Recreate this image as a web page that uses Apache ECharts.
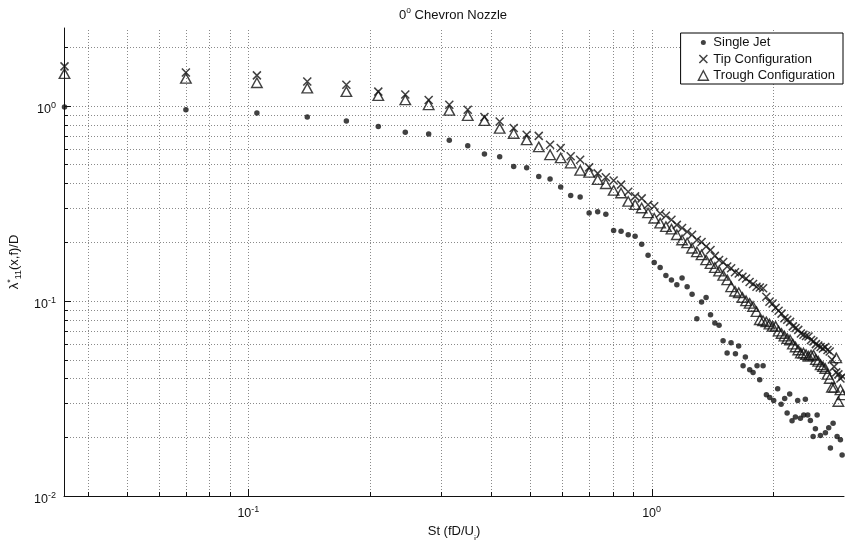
<!DOCTYPE html>
<html>
<head>
<meta charset="utf-8">
<script src="https://cdn.jsdelivr.net/npm/echarts@6/dist/echarts.min.js"></script>
<style>
  html, body { margin: 0; padding: 0; background: #fff; }
  #chart { width: 845px; height: 540px; }
</style>
</head>
<body>
<div id="chart"></div>
<script>
// Strouhal number bins shared by the two chevron configurations
const stBins = [0.035, 0.07, 0.105, 0.14, 0.175, 0.21, 0.245, 0.28, 0.315, 0.35,
  0.385, 0.42, 0.455, 0.49, 0.525, 0.56, 0.595, 0.63, 0.665, 0.7,
  0.735, 0.77, 0.805, 0.84, 0.875, 0.91, 0.945, 0.98, 1.015, 1.05,
  1.085, 1.12, 1.155, 1.19, 1.225, 1.26, 1.295, 1.33, 1.365, 1.4,
  1.435, 1.47, 1.505, 1.54, 1.575, 1.61, 1.645, 1.68, 1.715, 1.75,
  1.785, 1.82, 1.855, 1.89, 1.925, 1.96, 1.995, 2.03, 2.065, 2.1,
  2.135, 2.17, 2.205, 2.24, 2.275, 2.31, 2.345, 2.38, 2.415, 2.45,
  2.485, 2.52, 2.555, 2.59, 2.625, 2.66, 2.695, 2.73, 2.765, 2.8,
  2.835, 2.87, 2.905, 2.94, 2.975];

const tipValues = [1.59, 1.48, 1.43, 1.33, 1.28, 1.18, 1.14, 1.07, 1.01, 0.954,
  0.875, 0.83, 0.769, 0.71, 0.70, 0.631, 0.607, 0.55, 0.528, 0.483,
  0.45, 0.43, 0.414, 0.394, 0.362, 0.343, 0.335, 0.311, 0.305, 0.28,
  0.273, 0.26, 0.245, 0.236, 0.226, 0.218, 0.205, 0.2, 0.19, 0.182,
  0.17, 0.162, 0.158, 0.15, 0.147, 0.14, 0.138, 0.133, 0.13, 0.125,
  0.122, 0.118, 0.117, 0.116, 0.105, 0.099, 0.097, 0.092, 0.089, 0.086,
  0.0815, 0.08, 0.078, 0.074, 0.0725, 0.071, 0.068, 0.067, 0.066, 0.0657,
  0.063, 0.062, 0.060, 0.059, 0.058, 0.057, 0.058, 0.056, 0.055, 0.050,
  0.046, 0.043, 0.042, 0.040, 0.041];

const troughValues = [1.46, 1.38, 1.31, 1.23, 1.18, 1.125, 1.07, 1.01, 0.946, 0.89,
  0.838, 0.765, 0.72, 0.668, 0.615, 0.56, 0.54, 0.508, 0.466, 0.455,
  0.418, 0.398, 0.368, 0.357, 0.323, 0.311, 0.299, 0.282, 0.265, 0.25,
  0.24, 0.233, 0.218, 0.205, 0.198, 0.186, 0.178, 0.172, 0.162, 0.155,
  0.148, 0.142, 0.135, 0.128, 0.118, 0.112, 0.11, 0.104, 0.1, 0.097,
  0.0935, 0.088, 0.08, 0.079, 0.078, 0.076, 0.074, 0.074, 0.07, 0.068,
  0.066, 0.064, 0.063, 0.06, 0.058, 0.056, 0.054, 0.054, 0.053, 0.052,
  0.0527, 0.0527, 0.05, 0.049, 0.047, 0.046, 0.045, 0.042, 0.040, 0.036,
  0.036, 0.051, 0.0305, 0.035, 0.033];

// Single jet: Strouhal number and value for each point
const singleJetSt = [0.035, 0.07, 0.105, 0.14, 0.175, 0.21, 0.245, 0.28, 0.315, 0.35,
  0.385, 0.42, 0.455, 0.49, 0.525, 0.56, 0.595, 0.63, 0.665, 0.7,
  0.735, 0.77, 0.805, 0.84, 0.875, 0.91, 0.945, 0.98, 1.015, 1.05,
  1.085, 1.12, 1.155, 1.19, 1.225, 1.26, 1.295, 1.33, 1.365, 1.4,
  1.435, 1.47, 1.504, 1.539, 1.574, 1.614, 1.644, 1.686, 1.708, 1.751,
  1.785, 1.826, 1.854, 1.89, 1.926, 1.963, 2.008, 2.054, 2.095, 2.138,
  2.168, 2.2, 2.23, 2.273, 2.303, 2.339, 2.384, 2.406, 2.439, 2.476,
  2.515, 2.548, 2.573, 2.622, 2.698, 2.749, 2.776, 2.819, 2.884, 2.939,
  2.968];
const singleJetValues = [0.985, 0.954, 0.917, 0.875, 0.834, 0.783, 0.73, 0.716, 0.664, 0.624,
  0.565, 0.548, 0.488, 0.481, 0.434, 0.421, 0.383, 0.347, 0.34, 0.282,
  0.286, 0.278, 0.229, 0.227, 0.218, 0.214, 0.195, 0.171, 0.157, 0.148,
  0.135, 0.128, 0.121, 0.131, 0.118, 0.108, 0.081, 0.0985, 0.104, 0.0848,
  0.077, 0.075, 0.0624, 0.054, 0.061, 0.0536, 0.0587, 0.0465, 0.0515, 0.0443,
  0.0429, 0.0465, 0.0394, 0.0465, 0.033, 0.032, 0.0309, 0.0354, 0.0295, 0.0316,
  0.0266, 0.0333, 0.0243, 0.0254, 0.0309, 0.025, 0.026, 0.0313, 0.026, 0.0244,
  0.0202, 0.0221, 0.026, 0.0204, 0.0211, 0.0224, 0.0176, 0.0236, 0.0202, 0.0194,
  0.0162];

// Decade sub-divisions used for the dotted grid
const xGridValues = [0.04, 0.05, 0.06, 0.07, 0.08, 0.09, 0.1, 0.2, 0.3, 0.4, 0.5, 0.6, 0.7, 0.8, 0.9, 1, 2];
const yGridValues = [0.02, 0.03, 0.04, 0.05, 0.06, 0.07, 0.08, 0.09, 0.1, 0.2, 0.3, 0.4, 0.5, 0.6, 0.7, 0.8, 0.9, 1, 2];

const xRange = [0.0349, 3];
const yRange = [0.01, 2.5];

const FONT = '"Liberation Sans", Arial, Helvetica, sans-serif';
const INK = '#111';

function isDecade(v) {
  const e = Math.log10(v);
  return Math.abs(e - Math.round(e)) < 1e-6;
}
function decadeLabel(v) {
  if (!isDecade(v)) return '';
  return '{b|10}{s|' + Math.round(Math.log10(v)) + '}';
}
const labelRich = {
  b: { fontSize: 12.5, lineHeight: 15, verticalAlign: 'bottom', fontFamily: FONT, color: INK },
  s: { fontSize: 9, lineHeight: 8, verticalAlign: 'top', fontFamily: FONT, color: INK }
};

function crisp(v) { return Math.round(v) + 0.5; }

function xGridItem(params, api) {
  const v = api.value(0);
  const p0 = api.coord([v, yRange[0]]);
  const p1 = api.coord([v, yRange[1]]);
  const x = crisp(p0[0]);
  const len = isDecade(v) ? 7 : 4;
  return {
    type: 'group',
    children: [
      { type: 'line', shape: { x1: x, y1: p0[1], x2: x, y2: p1[1] },
        style: { stroke: '#8a8a8a', lineWidth: 1, lineDash: [1, 2] } },
      { type: 'line', shape: { x1: x, y1: p0[1], x2: x, y2: p0[1] - len },
        style: { stroke: INK, lineWidth: 1 } }
    ]
  };
}
function yGridItem(params, api) {
  const v = api.value(1);
  const p0 = api.coord([xRange[0], v]);
  const p1 = api.coord([xRange[1], v]);
  const y = crisp(p0[1]);
  const len = isDecade(v) ? 7 : 4;
  return {
    type: 'group',
    children: [
      { type: 'line', shape: { x1: p0[0], y1: y, x2: p1[0], y2: y },
        style: { stroke: '#8a8a8a', lineWidth: 1, lineDash: [1, 2] } },
      { type: 'line', shape: { x1: p0[0], y1: y, x2: p0[0] + len, y2: y },
        style: { stroke: INK, lineWidth: 1 } }
    ]
  };
}

const crossPath = 'path://M0,0L10,10M10,0L0,10';
const trianglePath = 'path://M5,0L10,9L0,9Z';

const chart = echarts.init(document.getElementById('chart'), null, { renderer: 'canvas' });
chart.setOption({
  animation: false,
  backgroundColor: '#fff',
  title: {
    text: '{b|0}{s|o}{b| Chevron Nozzle}',
    left: 453,
    top: 6,
    padding: 0,
    textAlign: 'center',
    textStyle: {
      fontWeight: 'normal',
      rich: {
        b: { fontSize: 13, fontWeight: 'normal', lineHeight: 16, verticalAlign: 'bottom', fontFamily: FONT, color: INK },
        s: { fontSize: 8.5, fontWeight: 'normal', lineHeight: 8, verticalAlign: 'top', fontFamily: FONT, color: INK }
      }
    }
  },
  grid: { left: 64, top: 28, width: 780, height: 468, containLabel: false, outerBoundsMode: 'none' },
  legend: {
    orient: 'vertical',
    right: 2,
    top: 33,
    selectedMode: false,
    itemWidth: 10,
    itemHeight: 11,
    itemGap: 3.5,
    padding: [3, 8, 2, 17],
    borderColor: '#000',
    borderWidth: 1,
    backgroundColor: '#fff',
    textStyle: { fontSize: 13, color: INK, fontFamily: FONT },
    data: [
      { name: 'Single Jet', icon: 'path://M0,0M10,11M2.5,5.5A2.5,2.5 0 1 0 7.5,5.5A2.5,2.5 0 1 0 2.5,5.5Z',
        itemStyle: { color: INK, borderWidth: 0 } },
      { name: 'Tip Configuration', icon: 'path://M0,0M10,11M1,1.5L9,9.5M9,1.5L1,9.5',
        itemStyle: { color: 'rgba(0,0,0,0)', borderColor: INK, borderWidth: 1.5 } },
      { name: 'Trough Configuration', icon: 'path://M0,0M10,11M5,0.7L10,10.3L0,10.3Z',
        itemStyle: { color: 'rgba(0,0,0,0)', borderColor: INK, borderWidth: 1.4 } }
    ]
  },
  xAxis: {
    type: 'log',
    logBase: 10,
    min: xRange[0],
    max: xRange[1],
    name: '{b|St (fD/U}{u|j}{b|)}',
    nameLocation: 'middle',
    nameGap: 19,
    nameTextStyle: {
      rich: {
        b: { fontSize: 13, lineHeight: 15, verticalAlign: 'top', fontFamily: FONT, color: INK },
        u: { fontSize: 9, lineHeight: 19, verticalAlign: 'bottom', fontFamily: FONT, color: INK }
      }
    },
    axisLine: { show: true, lineStyle: { color: INK, width: 1 } },
    axisTick: { show: false },
    splitLine: { show: false },
    minorTick: { show: false },
    axisLabel: { margin: 9, formatter: decadeLabel, rich: labelRich, showMinLabel: true, showMaxLabel: true }
  },
  yAxis: {
    type: 'log',
    logBase: 10,
    min: yRange[0],
    max: yRange[1],
    name: '{b|λ}{s|*}{u|11}{b|(x,f)/D}',
    nameLocation: 'middle',
    nameRotate: 90,
    nameGap: 40,
    nameTextStyle: {
      rich: {
        b: { fontSize: 13, lineHeight: 17, verticalAlign: 'middle', fontFamily: FONT, color: INK },
        s: { fontSize: 9, lineHeight: 8, verticalAlign: 'top', fontFamily: FONT, color: INK },
        u: { fontSize: 9, lineHeight: 8, verticalAlign: 'bottom', fontFamily: FONT, color: INK }
      }
    },
    axisLine: { show: true, lineStyle: { color: INK, width: 1 } },
    axisTick: { show: false },
    splitLine: { show: false },
    minorTick: { show: false },
    axisLabel: { margin: 8, padding: [6, 0, 0, 0], formatter: decadeLabel, rich: labelRich }
  },
  series: [
    {
      name: 'xGrid', type: 'custom', z: 1, silent: true,
      renderItem: xGridItem,
      encode: { x: 0, y: 1 },
      data: xGridValues.map(v => [v, 1])
    },
    {
      name: 'yGrid', type: 'custom', z: 1, silent: true,
      renderItem: yGridItem,
      encode: { x: 0, y: 1 },
      data: yGridValues.map(v => [1, v])
    },
    {
      name: 'Single Jet', type: 'scatter', z: 3, silent: true,
      symbol: 'circle', symbolSize: 5.5,
      itemStyle: { color: INK },
      data: singleJetSt.map((s, i) => [s, singleJetValues[i]])
    },
    {
      name: 'Tip Configuration', type: 'scatter', z: 3, silent: true,
      symbol: crossPath, symbolSize: 8,
      itemStyle: { color: 'rgba(0,0,0,0)', borderColor: INK, borderWidth: 1.5 },
      data: stBins.map((s, i) => [s, tipValues[i]])
    },
    {
      name: 'Trough Configuration', type: 'scatter', z: 3, silent: true,
      symbol: trianglePath, symbolSize: [10.5, 9.5],
      itemStyle: { color: 'rgba(0,0,0,0)', borderColor: INK, borderWidth: 1.4 },
      data: stBins.map((s, i) => [s, troughValues[i]])
    }
  ]
});
</script>
</body>
</html>
